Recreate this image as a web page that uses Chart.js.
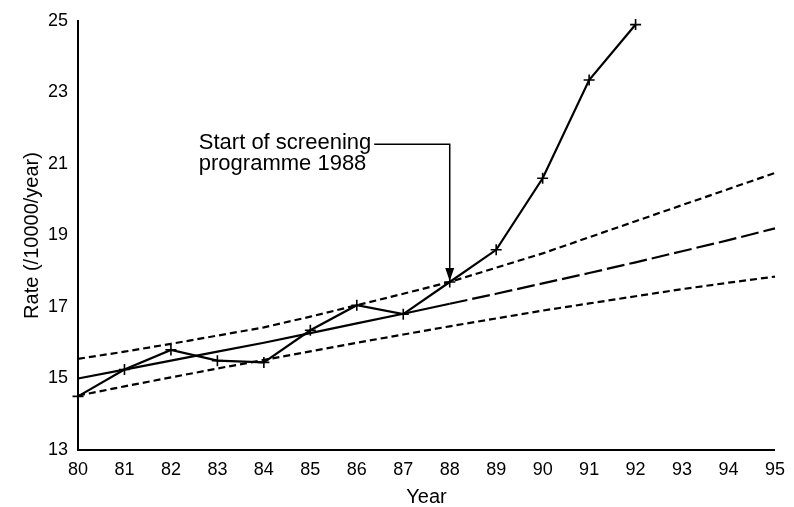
<!DOCTYPE html>
<html>
<head>
<meta charset="utf-8">
<script src="https://cdn.jsdelivr.net/npm/chart.js@4/dist/chart.umd.min.js"></script>
<style>
  html, body { margin: 0; padding: 0; background: #fff; }
  #wrap { width: 794px; height: 507px; position: relative; }
</style>
</head>
<body>
<div id="wrap"><canvas id="c"></canvas></div>
<script>
// ---- data ----
const years = [80, 81, 82, 83, 84, 85, 86, 87, 88, 89, 90, 91, 92, 93, 94, 95];
const observedYears = [80, 81, 82, 83, 84, 85, 86, 87, 88, 89, 90, 91, 92];
const observedRate = [14.5, 15.25, 15.8, 15.5, 15.45, 16.35, 17.05, 16.8, 17.7, 18.6, 20.6, 23.35, 24.9];
const fittedRate = [15.0, 15.25, 15.5, 15.75, 16.0, 16.27, 16.54, 16.81, 17.09, 17.37, 17.66, 17.95, 18.25, 18.56, 18.87, 19.2];
const upperRate = [15.55, 15.75, 15.97, 16.2, 16.43, 16.73, 17.05, 17.37, 17.7, 18.1, 18.5, 18.95, 19.4, 19.85, 20.3, 20.75];
const lowerRate = [14.52, 14.78, 15.03, 15.28, 15.52, 15.76, 16.0, 16.23, 16.46, 16.68, 16.9, 17.1, 17.3, 17.5, 17.68, 17.85];
const yTicks = [13, 15, 17, 19, 21, 23, 25];
const screeningYear = 88;
const annotationLines = ["Start of screening", "programme 1988"];
const xTitle = "Year";
const yTitle = "Rate (/10000/year)";

// ---- build datasets ----
const pts = (xs, ys) => xs.map((x, i) => ({ x: x, y: ys[i] }));
const fitAll = pts(years, fittedRate);
const fitSolid = fitAll.filter(p => p.x <= screeningYear);
const fitDashed = fitAll.filter(p => p.x >= screeningYear);

const FONT = "'Liberation Sans', Arial, Helvetica, sans-serif";

const annotationPlugin = {
  id: 'screeningNote',
  afterDatasetsDraw(chart) {
    const { ctx, scales } = chart;
    const xs = scales.x, ys = scales.y;
    const ax = xs.getPixelForValue(screeningYear);
    const tipY = ys.getPixelForValue(observedRate[observedYears.indexOf(screeningYear)]);
    const leaderY = ys.getPixelForValue(21.55);
    const textX = xs.getPixelForValue(82.6);
    ctx.save();
    ctx.fillStyle = '#000';
    ctx.strokeStyle = '#000';
    ctx.font = "22px " + FONT;
    ctx.textBaseline = 'alphabetic';
    ctx.textAlign = 'left';
    const l1Base = leaderY + 5;
    ctx.fillText(annotationLines[0], textX, l1Base);
    ctx.fillText(annotationLines[1], textX, l1Base + 21);
    const w1 = ctx.measureText(annotationLines[0]).width;
    ctx.lineWidth = 1.5;
    ctx.beginPath();
    ctx.moveTo(textX + w1 + 3, leaderY);
    ctx.lineTo(ax, leaderY);
    ctx.lineTo(ax, tipY - 12);
    ctx.stroke();
    ctx.beginPath();
    ctx.moveTo(ax - 4.5, tipY - 14);
    ctx.lineTo(ax + 4.5, tipY - 14);
    ctx.lineTo(ax, tipY - 1);
    ctx.closePath();
    ctx.fill();
    ctx.restore();
  }
};

const lineBase = { fill: false, tension: 0, borderColor: '#000', backgroundColor: '#000', borderWidth: 2.2, pointRadius: 0, clip: false };

new Chart(document.getElementById('c'), {
  type: 'line',
  data: {
    datasets: [
      Object.assign({}, lineBase, { label: 'Observed', data: pts(observedYears, observedRate),
        pointStyle: 'cross', pointRadius: 5.5, pointBorderWidth: 1.6, pointBorderColor: '#000', borderWidth: 2.2 }),
      Object.assign({}, lineBase, { label: 'Fitted', data: fitSolid }),
      Object.assign({}, lineBase, { label: 'Projected', data: fitDashed, borderDash: [18, 5] }),
      Object.assign({}, lineBase, { label: 'Upper', data: pts(years, upperRate), borderDash: [7, 4] }),
      Object.assign({}, lineBase, { label: 'Lower', data: pts(years, lowerRate), borderDash: [7, 4] })
    ]
  },
  options: {
    responsive: true,
    maintainAspectRatio: false,
    animation: false,
    events: [],
    layout: { padding: { top: 21, right: 16, left: 0, bottom: 0 } },
    plugins: { legend: { display: false }, tooltip: { enabled: false } },
    scales: {
      x: {
        type: 'linear', min: 80, max: 95,
        afterFit(s) { s.height = 57; },
        grid: { display: false, drawTicks: false },
        border: { display: true, color: '#000', width: 2 },
        ticks: { stepSize: 1, color: '#000', padding: 9, font: { family: FONT, size: 18 }, maxRotation: 0,
          callback: v => String(v) },
        title: { display: true, text: xTitle, color: '#000', font: { family: FONT, size: 20, lineHeight: 1 }, padding: { top: 0, bottom: 0 } }
      },
      y: {
        type: 'linear', min: 13, max: 25,
        afterFit(s) { s.width = 78; },
        afterBuildTicks(s) { s.ticks = yTicks.map(v => ({ value: v })); },
        grid: { display: false, drawTicks: false },
        border: { display: true, color: '#000', width: 2 },
        ticks: { color: '#000', padding: 10, font: { family: FONT, size: 18 } },
        title: { display: true, text: yTitle, color: '#000', font: { family: FONT, size: 20, lineHeight: 1 }, padding: { top: 22, bottom: 0 } }
      }
    }
  },
  plugins: [annotationPlugin]
});
</script>
</body>
</html>
